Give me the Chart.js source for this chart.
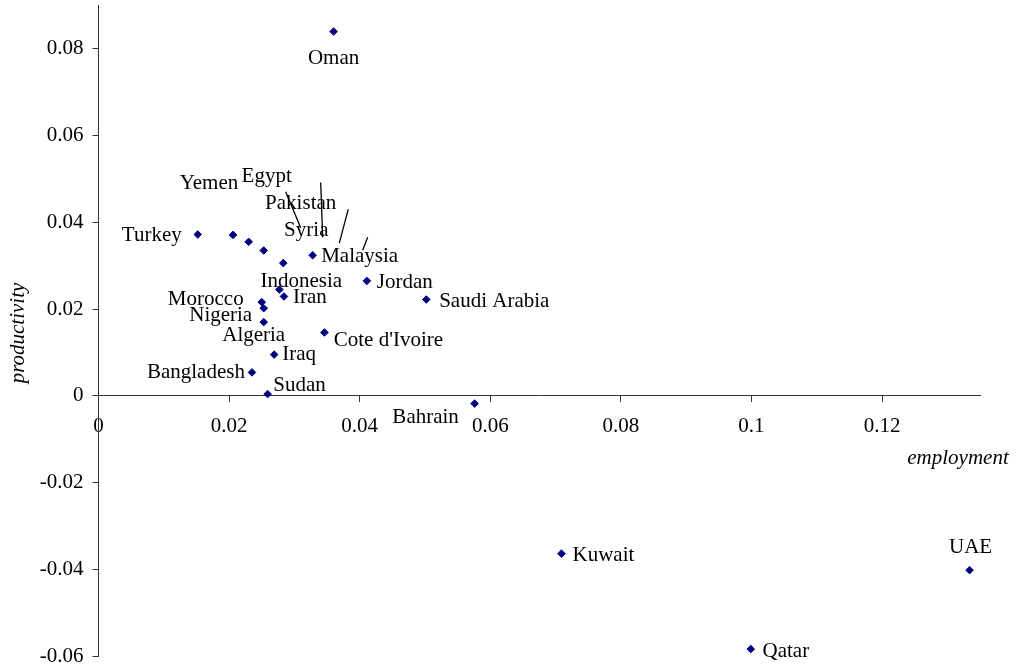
<!DOCTYPE html>
<html>
<head>
<meta charset="utf-8">
<script src="https://cdn.jsdelivr.net/npm/chart.js@4/dist/chart.umd.min.js"></script>
<style>
  body { margin: 0; background: #fff; }
  #wrap { width: 1016px; height: 669px; }
</style>
</head>
<body>
<div id="wrap"><canvas id="myScatterChart"></canvas></div>
<script>
const countries = ['Oman', 'Turkey', 'Yemen', 'Egypt', 'Pakistan', 'Syria', 'Malaysia',
    'Indonesia', 'Iran', 'Jordan', 'Saudi Arabia', 'Morocco', 'Nigeria', 'Algeria',
    "Cote d'Ivoire", 'Iraq', 'Bangladesh', 'Sudan', 'Bahrain', 'Kuwait', 'UAE', 'Qatar'];
const employment = [0.0360, 0.0152, 0.0206, 0.0230, 0.0253, 0.0283, 0.0328,
    0.0277, 0.0284, 0.0411, 0.0502, 0.0250, 0.0253, 0.0253,
    0.0346, 0.0269, 0.0235, 0.0259, 0.0576, 0.0709, 0.1334, 0.0999];
const productivity = [0.0840, 0.0372, 0.0371, 0.0355, 0.0335, 0.0306, 0.0324,
    0.0245, 0.0229, 0.0265, 0.0222, 0.0216, 0.0202, 0.0170,
    0.0146, 0.0095, 0.0054, 0.0004, -0.0018, -0.0364, -0.0402, -0.0584];
const xTicks = [0, 0.02, 0.04, 0.06, 0.08, 0.1, 0.12];
const yTicks = [-0.06, -0.04, -0.02, 0, 0.02, 0.04, 0.06, 0.08];

// where each label sits, relative to its point (pixels)
const labelOffset = {
    'Oman': [0, 25], 'Turkey': [-46, -1], 'Yemen': [-24, -53], 'Egypt': [18, -67],
    'Pakistan': [37, -49], 'Syria': [23, -35], 'Malaysia': [47, -1], 'Indonesia': [22, -10],
    'Iran': [26, -1], 'Jordan': [38, 0], 'Saudi Arabia': [68, 0], 'Morocco': [-56, -5],
    'Nigeria': [-43, 5], 'Algeria': [-10, 11], "Cote d'Ivoire": [64, 6], 'Iraq': [25, -2],
    'Bangladesh': [-56, -2], 'Sudan': [32, -11], 'Bahrain': [-49, 12], 'Kuwait': [42, 0],
    'UAE': [1, -25], 'Qatar': [35, 0]
};
// leader lines left over from moved labels
const leaderLines = {
    'Egypt': [37, -50, 52, -14],
    'Pakistan': [57, -68, 59, -13],
    'Syria': [65, -54, 56, -20],
    'Malaysia': [55, -18, 50, -5]
};

const serif = "'Liberation Serif', 'Times New Roman', serif";
const axisColor = '#333';

const pointLabels = {
    id: 'pointLabels',
    afterDatasetsDraw(chart) {
        const ctx = chart.ctx;
        const meta = chart.getDatasetMeta(0);
        ctx.save();
        ctx.strokeStyle = '#000';
        ctx.lineWidth = 1.3;
        meta.data.forEach((pt, i) => {
            const line = leaderLines[countries[i]];
            if (!line) return;
            ctx.beginPath();
            ctx.moveTo(pt.x + line[0], pt.y + line[1]);
            ctx.lineTo(pt.x + line[2], pt.y + line[3]);
            ctx.stroke();
        });
        ctx.fillStyle = '#000';
        ctx.font = '21px ' + serif;
        ctx.textAlign = 'center';
        ctx.textBaseline = 'middle';
        meta.data.forEach((pt, i) => {
            const off = labelOffset[countries[i]] || [0, 0];
            ctx.fillText(countries[i], pt.x + off[0], pt.y + off[1] + 2);
        });

        // axis titles
        ctx.font = 'italic 21px ' + serif;
        const xs = chart.scales.x, ys = chart.scales.y;
        ctx.fillText('employment', xs.right - 22, ys.getPixelForValue(0) + 63);
        ctx.translate(18, 333);
        ctx.rotate(-Math.PI / 2);
        ctx.fillText('productivity', 0, 0);
        ctx.restore();
    }
};

const myScatterChart = new Chart(document.getElementById('myScatterChart'), {
    type: 'scatter',
    data: {
        datasets: [{
            label: 'countries',
            data: countries.map((c, i) => ({ x: employment[i], y: productivity[i] })),
            pointStyle: 'rectRot',
            pointRadius: 3.8,
            pointHoverRadius: 3.8,
            borderWidth: 1,
            backgroundColor: '#000080',
            borderColor: '#000080'
        }]
    },
    options: {
        responsive: true,
        maintainAspectRatio: false,
        animation: false,
        layout: { padding: { left: 0, right: 36, top: 5.5, bottom: 13 } },
        plugins: {
            legend: { display: false },
            tooltip: { enabled: false }
        },
        scales: {
            x: {
                type: 'linear',
                position: { y: 0 },
                min: 0,
                max: 0.135,
                afterBuildTicks: scale => { scale.ticks = xTicks.map(v => ({ value: v })); },
                afterFit: scale => { scale.height = 0; },
                grid: { drawOnChartArea: false, drawTicks: true, tickLength: 6, color: axisColor },
                border: { color: axisColor, width: 1 },
                ticks: {
                    padding: 12,
                    maxRotation: 0,
                    color: '#000',
                    font: { family: serif, size: 21 },
                    callback: v => String(v)
                }
            },
            y: {
                type: 'linear',
                position: 'left',
                min: -0.06,
                max: 0.09,
                afterBuildTicks: scale => { scale.ticks = yTicks.map(v => ({ value: v })); },
                afterFit: scale => {
                    scale.width = 98.5;
                    scale.paddingTop = 0;
                    scale.paddingBottom = 0;
                },
                grid: { drawOnChartArea: false, drawTicks: true, tickLength: 6, color: axisColor },
                border: { color: axisColor, width: 1 },
                ticks: {
                    padding: 9,
                    color: '#000',
                    font: { family: serif, size: 21 },
                    callback: v => String(v)
                }
            }
        }
    },
    plugins: [pointLabels]
});
</script>
</body>
</html>
